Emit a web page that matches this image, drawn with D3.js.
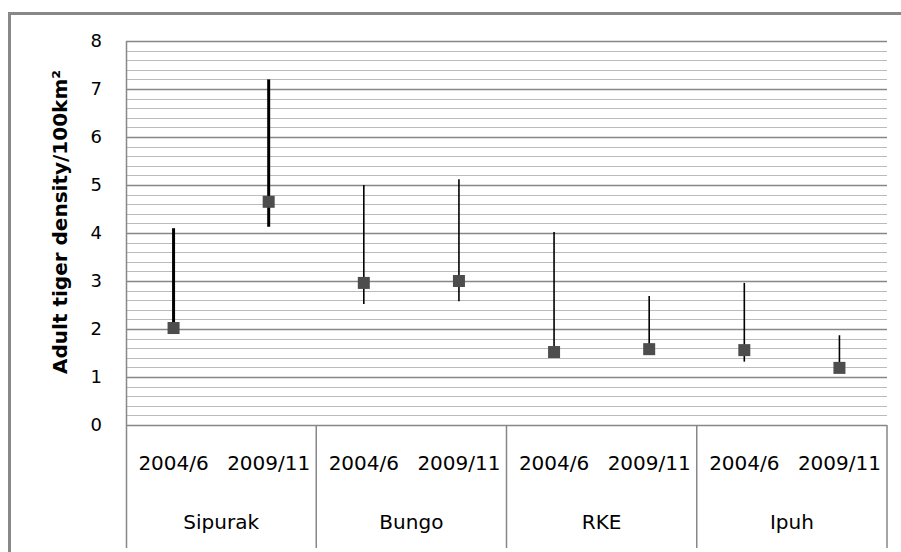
<!DOCTYPE html>
<meta charset="utf-8">
<style>
    body { margin: 0; background: #fff; }
    text { font-family: "DejaVu Sans", sans-serif; fill: #000; }
</style>
<body>
<script src="https://d3js.org/d3.v7.min.js"></script>
<script>

var groups = ["Sipurak", "Bungo", "RKE", "Ipuh"];
var periods = ["2004/6", "2009/11"];
// one value per site and period, in the order of groups x periods
var density = [2.02, 4.65, 2.96, 3.0, 1.52, 1.58, 1.56, 1.19];
var upper = [4.1, 7.2, 5.0, 5.12, 4.02, 2.69, 2.96, 1.87];
var lower = [2.0, 4.13, 2.52, 2.58, 1.5, 1.55, 1.32, 1.15];
var yTicks = [0, 1, 2, 3, 4, 5, 6, 7, 8];

var width = 901, height = 552;
var plotLeft = 126, plotRight = 887, plotTop = 41, plotBottom = 425;

var svg = d3.select("body").append("svg")
    .attr("width", width)
    .attr("height", height);

// outer chart border
svg.append("rect")
    .attr("x", 9.5).attr("y", 13.5)
    .attr("width", 920).attr("height", 600)
    .attr("fill", "none")
    .attr("stroke", "#888")
    .attr("stroke-width", 3);

var points = [];
groups.forEach(function(g, gi) {
    periods.forEach(function(p, pi) {
        var i = gi * periods.length + pi;
        points.push({ key: g + "|" + p, group: gi, period: p,
                      value: density[i], hi: upper[i], lo: lower[i] });
    });
});

var x = d3.scaleBand()
    .domain(points.map(function(d) { return d.key; }))
    .range([plotLeft, plotRight]);

var xGroup = d3.scaleBand()
    .domain(groups)
    .range([plotLeft, plotRight]);

var y = d3.scaleLinear()
    .domain([0, 8])
    .range([plotBottom, plotTop]);

// minor grid every 0.2
svg.append("g")
    .selectAll("line")
    .data(d3.range(0, 8.001, 0.2).filter(function(v) { return Math.abs(v - Math.round(v)) > 0.01; }))
    .enter().append("line")
    .attr("x1", plotLeft).attr("x2", plotRight)
    .attr("y1", function(d) { return Math.round(y(d)) + 0.5; })
    .attr("y2", function(d) { return Math.round(y(d)) + 0.5; })
    .attr("stroke", "#bbb")
    .attr("stroke-width", 1.2);

// major grid
svg.append("g")
    .selectAll("line")
    .data(yTicks)
    .enter().append("line")
    .attr("x1", plotLeft).attr("x2", plotRight)
    .attr("y1", function(d) { return Math.round(y(d)) + 0.5; })
    .attr("y2", function(d) { return Math.round(y(d)) + 0.5; })
    .attr("stroke", "#878787")
    .attr("stroke-width", 1.5);

// y axis
var yAxis = svg.append("g")
    .attr("transform", "translate(" + plotLeft + ",0)")
    .call(d3.axisLeft(y).tickValues(yTicks).tickSize(0).tickPadding(24));
yAxis.select(".domain").remove();
yAxis.selectAll("text")
    .style("font-size", "18px")
    .style("font-family", "DejaVu Sans, sans-serif")
    .attr("fill", "#000");

svg.append("line")
    .attr("x1", plotLeft + 0.5).attr("x2", plotLeft + 0.5)
    .attr("y1", plotTop).attr("y2", 548)
    .attr("stroke", "#878787").attr("stroke-width", 1.5);

// category axis: dividers between sites
svg.append("g")
    .selectAll("line")
    .data(groups.slice(1).concat(["end"]))
    .enter().append("line")
    .attr("x1", function(d) { return d === "end" ? plotRight : xGroup(d); })
    .attr("x2", function(d) { return d === "end" ? plotRight : xGroup(d); })
    .attr("y1", plotBottom).attr("y2", 548)
    .attr("stroke", "#878787").attr("stroke-width", 1.5);

svg.append("g")
    .selectAll("text")
    .data(points)
    .enter().append("text")
    .attr("x", function(d) { return x(d.key) + x.bandwidth() / 2; })
    .attr("y", 470)
    .attr("text-anchor", "middle")
    .style("font-size", "20px")
    .text(function(d) { return d.period; });

svg.append("g")
    .selectAll("text")
    .data(groups)
    .enter().append("text")
    .attr("x", function(d) { return xGroup(d) + xGroup.bandwidth() / 2; })
    .attr("y", 529)
    .attr("text-anchor", "middle")
    .style("font-size", "20px")
    .text(function(d) { return d; });

// error bars
svg.append("g")
    .selectAll("line")
    .data(points)
    .enter().append("line")
    .attr("x1", function(d) { return x(d.key) + x.bandwidth() / 2; })
    .attr("x2", function(d) { return x(d.key) + x.bandwidth() / 2; })
    .attr("y1", function(d) { return y(d.hi); })
    .attr("y2", function(d) { return y(d.lo); })
    .attr("stroke", "#000")
    .attr("stroke-width", function(d) { return d.group === 0 ? 3 : 1.6; });

// markers
var s = 12;
svg.append("g")
    .selectAll("rect")
    .data(points)
    .enter().append("rect")
    .attr("x", function(d) { return x(d.key) + x.bandwidth() / 2 - s / 2; })
    .attr("y", function(d) { return y(d.value) - s / 2; })
    .attr("width", s).attr("height", s)
    .attr("fill", "#4d4d4d");

// y axis title
svg.append("text")
    .attr("transform", "translate(67,222) rotate(-90)")
    .attr("text-anchor", "middle")
    .style("font-size", "20px")
    .style("font-weight", "bold")
    .text("Adult tiger density/100km\u00b2");

</script>
</body>
